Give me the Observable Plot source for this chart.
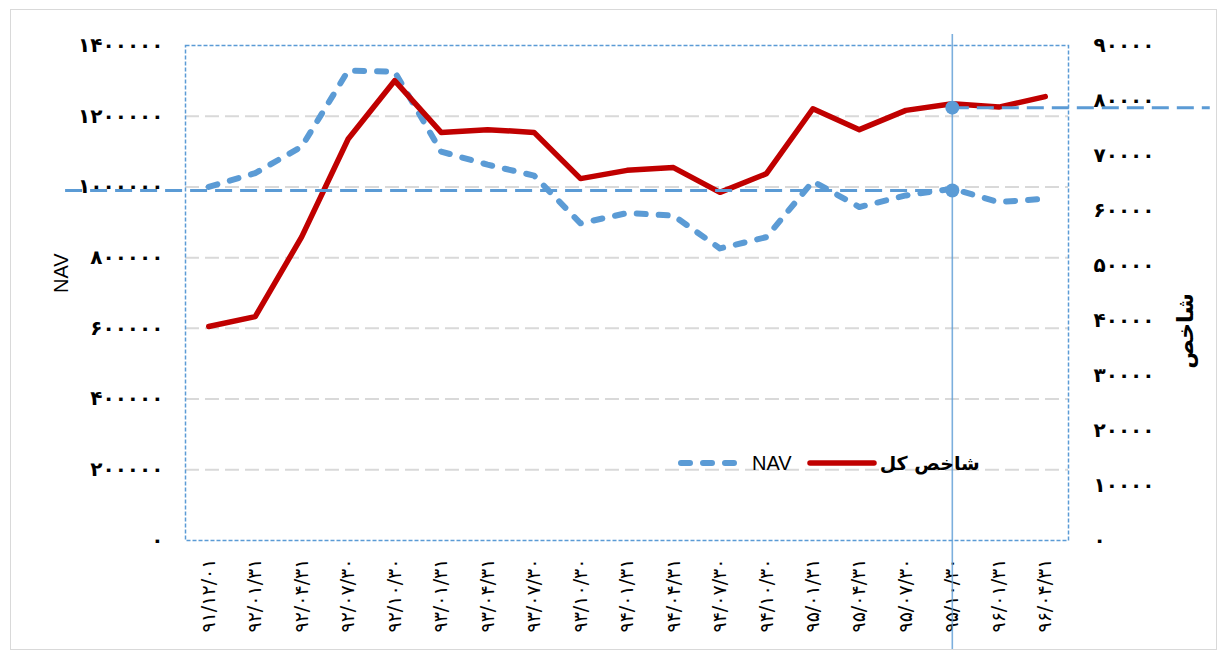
<!DOCTYPE html>
<html>
<head>
<meta charset="utf-8">
<script src="https://cdn.jsdelivr.net/npm/d3@7"></script>
<script src="https://cdn.jsdelivr.net/npm/@observablehq/plot@0.6"></script>
<style>
  body { margin: 0; background: #fff; }
  #wrap { position: relative; width: 1226px; height: 653px; overflow: hidden; }
  #border { position: absolute; left: 10px; top: 9px; width: 1207px; height: 641px; border: 1.5px solid #d9d9d9; box-sizing: border-box; pointer-events: none; }
  #legend { position: absolute; left: 673px; top: 448px; height: 30px; display: flex; align-items: center; }
  #legend .nav { font-family: "Liberation Sans", Arial, sans-serif; font-size: 20px; color: #000; margin: 0 14px 0 9px; }
  #legend .idx { font-family: "DejaVu Sans", sans-serif; font-weight: bold; font-size: 19px; color: #000; margin-left: 2px; direction: rtl; }
  #chart svg { display: block; }
</style>
</head>
<body>
<div id="wrap">
  <div id="chart"></div>
  <div id="border"></div>
  <div id="legend">
    <svg width="70" height="12"><line x1="8" y1="6" x2="65" y2="6" stroke="#5b9bd5" stroke-width="6" stroke-dasharray="9,13" stroke-linecap="round"/></svg>
    <span class="nav">NAV</span>
    <svg width="72" height="12"><line x1="4" y1="6" x2="68" y2="6" stroke="#c00000" stroke-width="5.5" stroke-linecap="round"/></svg>
    <span class="idx">شاخص کل</span>
  </div>
</div>
<script>
// ---- data ----
const dates = ["۹۱/۱۲/۰۱","۹۲/۰۱/۳۱","۹۲/۰۴/۳۱","۹۲/۰۷/۳۰","۹۲/۱۰/۳۰","۹۳/۰۱/۳۱","۹۳/۰۴/۳۱","۹۳/۰۷/۳۰","۹۳/۱۰/۳۰","۹۴/۰۱/۳۱","۹۴/۰۴/۳۱","۹۴/۰۷/۳۰","۹۴/۱۰/۳۰","۹۵/۰۱/۳۱","۹۵/۰۴/۳۱","۹۵/۰۷/۳۰","۹۵/۱۰/۳۰","۹۶/۰۱/۳۱","۹۶/۰۴/۳۱"];
const nav = [1000000,1039000,1114000,1329000,1326000,1100000,1063000,1032000,897000,926000,919000,826000,858000,1016000,943000,976000,995000,957000,967000];
const indexValues = [38900,40700,55200,73000,83600,74200,74700,74200,65800,67300,67800,63300,66700,78500,74700,78200,79400,78800,80700];
const leftTicks = [0,200000,400000,600000,800000,1000000,1200000,1400000];
const rightTicks = [0,10000,20000,30000,40000,50000,60000,70000,80000,90000];
const gridTicks = [200000,400000,600000,800000,1000000,1200000];
const markerIdx = 16;
const navRef = 990000;
const indexRef = 78700;
const refLeftStart = -3.08;   // left horizontal ref line extends beyond the frame
const refRightEnd = 21.55;    // right horizontal ref line extends beyond the frame
const vLineRange = [-311000, 1431000];

// ---- helpers ----
const leftMax = 1400000, rightMax = 90000;
const ratio = leftMax / rightMax;
const fa = "۰۱۲۳۴۵۶۷۸۹";
const toFa = n => String(n).replace(/\d/g, d => fa[d]);

const navData = dates.map((d, i) => ({i, v: nav[i]}));
const idxData = dates.map((d, i) => ({i, v: indexValues[i] * ratio}));

const chart = Plot.plot({
  width: 1226,
  height: 653,
  marginLeft: 185,
  marginRight: 158,
  marginTop: 45,
  marginBottom: 113,
  x: {type: "linear", domain: [-0.5, dates.length - 0.5]},
  y: {domain: [0, leftMax]},
  style: {fontFamily: "DejaVu Sans, sans-serif", background: "transparent", overflow: "visible"},
  marks: [
    Plot.ruleY(gridTicks, {stroke: "#d9d9d9", strokeWidth: 2, strokeDasharray: "14,6"}),
    Plot.frame({stroke: "#5b9bd5", strokeWidth: 1.5, strokeDasharray: "4,2"}),
    Plot.axisY(leftTicks, {anchor: "left", tickSize: 0, tickPadding: 22, tickFormat: toFa, fontWeight: "bold", fontSize: 20, label: null}),
    Plot.axisY(rightTicks.map(v => v * ratio), {anchor: "right", tickSize: 0, tickPadding: 25, tickFormat: v => toFa(Math.round(v / ratio)), fontWeight: "bold", fontSize: 20, label: null}),
    Plot.axisX(d3.range(dates.length), {anchor: "bottom", tickSize: 0, tickPadding: 18, tickRotate: -90, tickFormat: i => dates[i], fontSize: 19, label: null}),
    Plot.text(["NAV"], {frameAnchor: "left", dx: -124, rotate: -90, text: d => d, fontSize: 20, fontFamily: "Liberation Sans, Arial, sans-serif"}),
    Plot.text(["شاخص"], {frameAnchor: "right", dx: 117, rotate: -90, text: d => d, fontSize: 22, fontWeight: "bold"}),
    Plot.line(navData, {x: "i", y: "v", stroke: "#5b9bd5", strokeWidth: 6, strokeDasharray: "9,13", strokeLinecap: "round", strokeLinejoin: "round"}),
    Plot.line(idxData, {x: "i", y: "v", stroke: "#c00000", strokeWidth: 5.5, strokeLinecap: "round", strokeLinejoin: "round"}),
    Plot.ruleX([markerIdx], {y1: vLineRange[0], y2: vLineRange[1], stroke: "#5b9bd5", strokeOpacity: 0.8, strokeWidth: 1.6}),
    Plot.ruleY([navRef], {x1: refLeftStart, x2: markerIdx, stroke: "#5b9bd5", strokeWidth: 3, strokeDasharray: "17,8"}),
    Plot.ruleY([indexRef * ratio], {x1: markerIdx, x2: refRightEnd, stroke: "#5b9bd5", strokeWidth: 3, strokeDasharray: "17,8"}),
    Plot.dot([{i: markerIdx, v: navRef}, {i: markerIdx, v: indexRef * ratio}], {x: "i", y: "v", r: 7, fill: "#5b9bd5"})
  ]
});
document.getElementById("chart").appendChild(chart);
</script>
</body>
</html>
